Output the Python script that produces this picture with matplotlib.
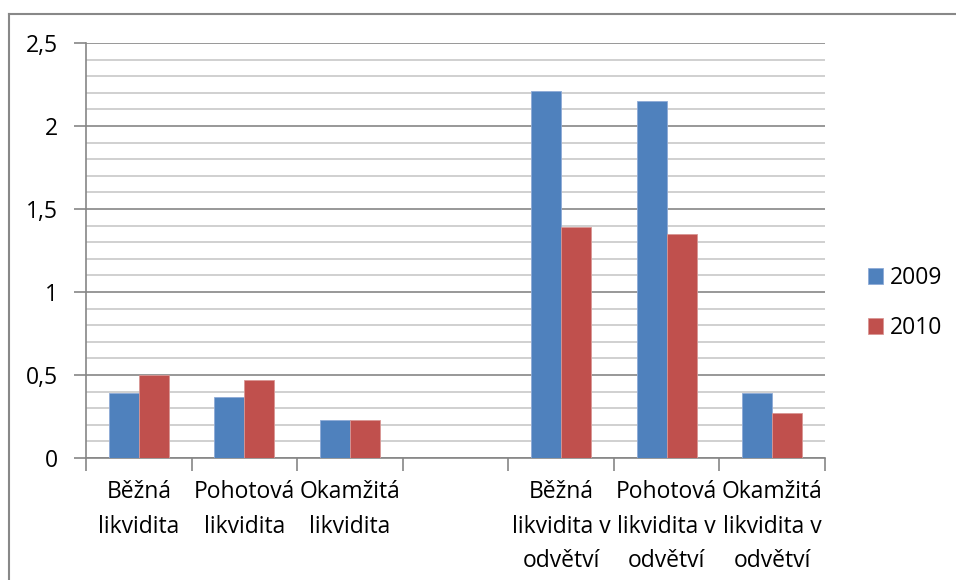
import numpy as np
from matplotlib import pyplot as plt
from matplotlib.lines import Line2D
from matplotlib.ticker import MultipleLocator, FixedLocator

categories = [
    'Běžná\nlikvidita',
    'Pohotová\nlikvidita',
    'Okamžitá\nlikvidita',
    '',
    'Běžná\nlikvidita v\nodvětví',
    'Pohotová\nlikvidita v\nodvětví',
    'Okamžitá\nlikvidita v\nodvětví',
]
v2009 = [0.39, 0.37, 0.23, np.nan, 2.21, 2.15, 0.39]
v2010 = [0.50, 0.47, 0.23, np.nan, 1.39, 1.35, 0.27]
series_names = ['2009', '2010']
y_ticks = [0, 0.5, 1, 1.5, 2, 2.5]
y_labels = ['0', '0,5', '1', '1,5', '2', '2,5']

plt.rcParams['font.family'] = ['Open Sans', 'DejaVu Sans']
fs = 16.5

fig = plt.figure(figsize=(9.56, 5.8), dpi=100)
ax = fig.add_axes([86 / 956, 1 - 458 / 580, (825 - 86) / 956, (458 - 43) / 580])

x = np.arange(len(categories))
w = 0.284
b1 = ax.bar(x - w / 2, v2009, w, color='#4F81BD', edgecolor='#8EAAD6', linewidth=0.6, zorder=3)
b2 = ax.bar(x + w / 2, v2010, w, color='#C0504D', edgecolor='#D99694', linewidth=0.6, zorder=3)

ax.set_xlim(-0.5, len(categories) - 0.5)
ax.set_ylim(0, 2.5)

# y axis: major at 0.5 with labels, minor gridlines every 0.1
ax.yaxis.set_major_locator(FixedLocator(y_ticks))
ax.set_yticklabels(y_labels, fontsize=fs)
ax.yaxis.set_minor_locator(MultipleLocator(0.1))
ax.grid(axis='y', which='major', color='#868686', linewidth=1.2, zorder=0)
ax.grid(axis='y', which='minor', color='#C8C8C8', linewidth=1.2, zorder=0)
ax.tick_params(axis='y', which='major', length=9, width=1.2, color='#868686', pad=11)
ax.tick_params(axis='y', which='minor', length=0)

# x axis: tick marks between categories, labels centred on categories
ax.xaxis.set_major_locator(FixedLocator(np.arange(-0.5, len(categories), 1.0)))
ax.xaxis.set_major_formatter(plt.NullFormatter())
ax.xaxis.set_minor_locator(FixedLocator(x))
ax.set_xticklabels(categories, minor=True, fontsize=fs, linespacing=1.58)
ax.tick_params(axis='x', which='major', length=9, width=1.2, color='#868686')
ax.tick_params(axis='x', which='minor', length=0, pad=16)

for s in ['top', 'right']:
    ax.spines[s].set_visible(False)
for s in ['left', 'bottom']:
    ax.spines[s].set_color('#868686')
    ax.spines[s].set_linewidth(1.2)

fig.legend([b1, b2], series_names, loc='center left', bbox_to_anchor=(868 / 956, 1 - 303 / 580),
           frameon=False, fontsize=fs, handlelength=0.66, handleheight=0.66,
           handletextpad=0.3, labelspacing=1.15, borderpad=0, borderaxespad=0)

# outer chart border
fig.add_artist(Line2D([9 / 956, 1], [1 - 14 / 580, 1 - 14 / 580], color='#888888', linewidth=1.5))
fig.add_artist(Line2D([9 / 956, 9 / 956], [0, 1 - 14 / 580], color='#888888', linewidth=1.5))

fig.savefig('out.png', dpi=100)
